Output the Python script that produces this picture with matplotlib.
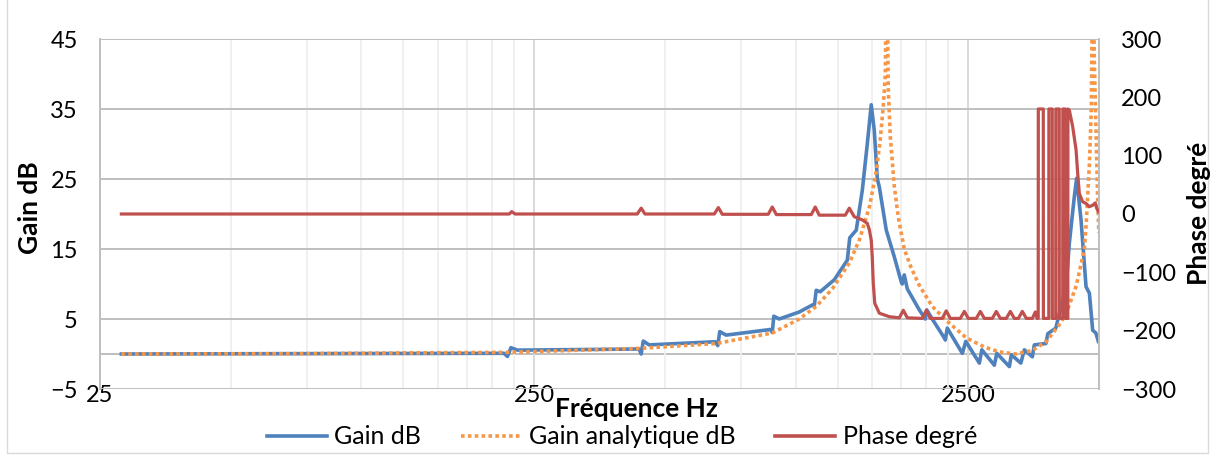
import matplotlib
matplotlib.use('Agg')
import matplotlib.pyplot as plt
from matplotlib.ticker import FixedLocator, FixedFormatter, NullFormatter
from matplotlib.lines import Line2D
from matplotlib.patches import Rectangle

plt.rcParams['font.family'] = ['Lato', 'DejaVu Sans']

# ---------------- data ----------------
freq_gain = [28, 72, 213, 217, 221, 229, 414, 436, 441, 446, 460, 653, 662, 669, 692,
             875, 884, 891, 917, 1020, 1093, 1104, 1116, 1140, 1228, 1316, 1333, 1380,
             1425, 1463, 1494, 1518, 1543, 1559, 1618, 1688, 1752, 1761, 1780, 1809,
             1928, 1990, 2006, 2065, 2201, 2213, 2236, 2422, 2467, 2651, 2686, 2870,
             2908, 3108, 3141, 3303, 3365, 3511, 3548, 3772, 3812, 3977, 4020, 4117,
             4194, 4272, 4387, 4441, 4546, 4668, 4751, 4835, 4917, 4983]
gain_db = [0.0, 0.05, 0.1, -0.35, 0.9, 0.55, 0.7, 0.72, 0.0, 1.85, 1.3, 1.75, 1.2, 3.2, 2.7,
           3.5, 3.1, 5.4, 5.0, 6.0, 7.0, 6.8, 9.1, 8.9, 10.6, 13.4, 16.6, 17.7,
           23.4, 30.0, 35.6, 32.0, 25.0, 23.9, 17.7, 13.9, 10.3, 10.0, 11.3, 9.3,
           6.3, 5.0, 6.3, 5.0, 2.3, 2.0, 3.7, 0.1, 1.8, -1.3, 0.6, -1.6,
           0.1, -1.8, -0.1, -1.3, 0.6, -0.4, 1.3, 1.5, 2.9, 3.7, 4.9, 7.7,
           9.1, 15.8, 22.5, 25.1, 19.1, 9.6, 8.7, 3.4, 3.0, 1.8]

freq_analytic = [28, 72, 222, 436, 657, 884, 1020, 1116, 1215, 1330, 1403, 1479, 1534,
                 1567, 1593, 1610, 1622, 1635, 1653, 1688, 1725, 1780, 1847, 1928, 2065,
                 2224, 2474, 2722, 2947, 3208, 3511, 3782, 4052, 4205, 4434, 4627, 4676,
                 4751, 4801, 4840, 4878, 4922, 4963, 4996]
gain_analytic_db = [0.0, 0.05, 0.25, 0.8, 1.5, 3.0, 5.0, 6.8, 9.3, 13.0, 16.3, 21.0, 26.0,
                    30.6, 35.5, 40.0, 60.0, 38.0, 31.0, 24.0, 19.5, 15.0, 12.3, 9.8, 6.8,
                    4.8, 2.3, 1.0, 0.3, 0.0, 0.5, 1.8, 4.2, 5.8, 9.8, 15.0, 19.0,
                    27.0, 35.0, 60.0, 41.6, 32.0, 22.5, 17.3]

freq_phase = [28, 213, 219, 222, 226, 432, 441, 450, 650, 664, 678, 865, 884, 903,
              1087, 1110, 1134, 1302, 1330, 1365, 1424, 1463, 1479, 1494, 1502, 1510,
              1522, 1542, 1559, 1644, 1734, 1771, 1809, 1959, 2001, 2043, 2178, 2224,
              2272, 2396, 2448, 2500, 2608, 2664, 2722, 2840, 2900, 2963, 3058, 3124,
              3191, 3260, 3329, 3401, 3511, 3567, 3600,
              3622, 3624, 3721, 3723, 3831, 3833, 3902, 3904, 3975, 3977, 4049, 4051,
              4125, 4127, 4181, 4183, 4238, 4240,
              4272, 4348, 4427, 4465, 4505, 4585, 4668, 4751, 4835, 4904, 4938, 4983]
phase_deg = [0, 0, 0, 4, 0, 0, 10, 0, 0, 11, -0.5, -0.5, 12, -1,
             -1, 12, -2, -2, 10, -4.6, -10, -16, -27, -45, -73, -118,
             -153, -162, -170, -176, -178, -165, -178, -179, -165, -179, -179, -166,
             -179, -179, -167, -179, -179, -167, -179, -179, -167, -179, -179, -167,
             -179, -179, -167, -179, -179, -168, -179,
             -179, 180, 180, -179, -179, 180, 180, -179, -179, 180, 180, -179,
             -179, 180, 180, -179, -179, 180,
             178, 150, 110, 70, 35, 21, 18, 12.5, 15, 19, 10, 4]

x_major = [25, 250, 2500]
x_labels = ['25', '250', '2500']
gain_ticks = [-5, 5, 15, 25, 35, 45]
phase_ticks = [-300, -200, -100, 0, 100, 200, 300]

series_names = ['Gain dB', 'Gain analytique dB', 'Phase degré']
c_blue, c_orange, c_red = '#4F81BD', '#F79646', '#C0504D'

# ---------------- figure ----------------
W, H = 1214, 457
fig = plt.figure(figsize=(W / 100, H / 100), dpi=100)
fig.patches.append(Rectangle((7 / W, 4 / H), 1201 / W, 1.2, transform=fig.transFigure,
                             fill=False, edgecolor='#D9D9D9', lw=1.0))

L, R, T, B = 100, 1099, 39, 389
ax = fig.add_axes([L / W, 1 - B / H, (R - L) / W, (B - T) / H])
ax2 = ax.twinx()

ax.set_xscale('log')
ax.set_xlim(25, 5000)
ax.set_ylim(-5, 45)
ax2.set_ylim(-300, 300)

x_minor = [m * k for m in (25, 250) for k in range(2, 10)]
ax.xaxis.set_major_locator(FixedLocator(x_major))
ax.xaxis.set_major_formatter(FixedFormatter(x_labels))
ax.xaxis.set_minor_locator(FixedLocator(x_minor))
ax.xaxis.set_minor_formatter(NullFormatter())
ax.set_yticks(gain_ticks)
ax2.set_yticks(phase_ticks)

ax.grid(True, axis='y', color='#BFBFBF', lw=1.4, zorder=0)
ax.grid(True, axis='x', which='major', color='#D9D9D9', lw=1.4, zorder=0)
ax.grid(True, axis='x', which='minor', color='#EFEFEF', lw=1.3, zorder=0)
ax.axhline(0, color='#BFBFBF', lw=1.4, zorder=0.5)

for a in (ax, ax2):
    for s in ('top', 'bottom', 'left', 'right'):
        a.spines[s].set_visible(False)
ax.spines['left'].set_visible(True)
ax.spines['left'].set_color('#BFBFBF')
ax.spines['left'].set_linewidth(1.4)
ax2.spines['right'].set_visible(True)
ax2.spines['right'].set_color('#BFBFBF')
ax2.spines['right'].set_linewidth(1.4)

fs_tick = 17
fs_leg = 18
fs_title = 19
ax.tick_params(axis='x', which='both', length=0, pad=-3, labelsize=fs_tick)
ax.tick_params(axis='y', length=0, pad=16, labelsize=fs_tick)
ax2.tick_params(axis='y', length=0, pad=16, labelsize=fs_tick)

lw = 2.6
ax.plot(freq_gain, gain_db, color=c_blue, lw=lw, solid_joinstyle='round', zorder=3)
ax.plot(freq_analytic, gain_analytic_db, color=c_orange, lw=lw,
        linestyle=(0, (1, 0.9)), zorder=4)
ax2.plot(freq_phase, phase_deg, color=c_red, lw=2.3, solid_joinstyle='round', zorder=5)

fig.text(30 / W, 1 - 208 / H, 'Gain dB', rotation=90, ha='center', va='center',
         fontsize=fs_title, fontweight='bold')
fig.text(1199 / W, 1 - 213 / H, 'Phase degré', rotation=90, ha='center', va='center',
         fontsize=fs_title, fontweight='bold')
fig.text(636 / W, 1 - 409 / H, 'Fréquence Hz', ha='center', va='center',
         fontsize=fs_title, fontweight='bold')

handles = [Line2D([], [], color=c_blue, lw=lw),
           Line2D([], [], color=c_orange, lw=lw, linestyle=(0, (1, 0.9))),
           Line2D([], [], color=c_red, lw=lw)]
fig.legend(handles, series_names, loc='center', bbox_to_anchor=(622 / W, 1 - 437 / H),
           ncol=3, frameon=False, fontsize=fs_leg, handlelength=2.4, handletextpad=0.3,
           columnspacing=1.6, borderaxespad=0, borderpad=0)

fig.savefig('out.png', dpi=100)
